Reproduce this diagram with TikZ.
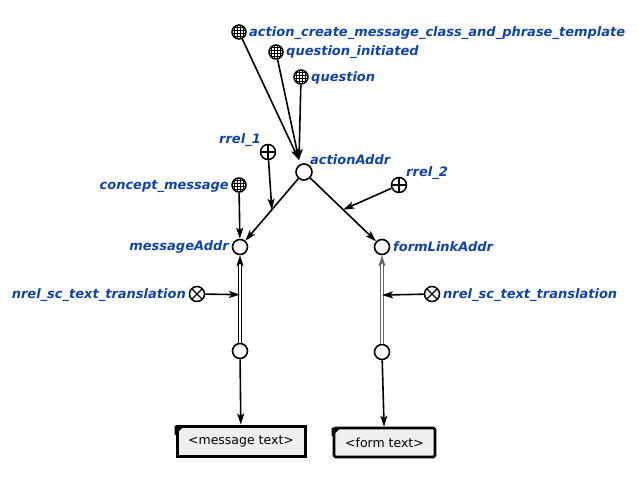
\documentclass[tikz,border=0pt]{standalone}
\usepackage{fontspec}
\setsansfont{DejaVu Sans}
\usetikzlibrary{arrows.meta}
\definecolor{labblue}{RGB}{18,68,168}
\definecolor{boxfill}{RGB}{239,239,239}
\begin{document}
\begin{tikzpicture}[x=1pt,y=-1pt,
  lab/.style={font=\sffamily\bfseries\itshape\fontsize{13}{15}\selectfont, text=labblue, inner sep=0pt},
  varnode/.style={circle, draw, line width=1.6pt, fill=white, minimum size=15pt, inner sep=0pt},
  classnode/.style={circle, draw, line width=1.5pt, fill=white, minimum size=14pt, inner sep=0pt,
    path picture={
      \foreach \d in {-4.5,-1.5,1.5,4.5}{
        \draw[line width=0.6pt] ([xshift=\d pt]path picture bounding box.north) -- ([xshift=\d pt]path picture bounding box.south);
        \draw[line width=0.6pt] ([yshift=\d pt]path picture bounding box.west) -- ([yshift=\d pt]path picture bounding box.east);
      }}},
  rrelnode/.style={circle, draw, line width=1.5pt, fill=white, minimum size=15pt, inner sep=0pt,
    path picture={
      \draw[line width=1.3pt] (path picture bounding box.north) -- (path picture bounding box.south);
      \draw[line width=1.3pt] (path picture bounding box.west) -- (path picture bounding box.east);}},
  nrelnode/.style={circle, draw, line width=1.5pt, fill=white, minimum size=15pt, inner sep=0pt,
    path picture={
      \draw[line width=1.3pt] (path picture bounding box.north west) -- (path picture bounding box.south east);
      \draw[line width=1.3pt] (path picture bounding box.north east) -- (path picture bounding box.south west);}},
  arc/.style={line width=1.6pt, -{Stealth[length=11pt,width=7pt,inset=2.5pt]}},
  darc/.style={line width=0.7pt, double distance=2.4pt, -{Stealth[length=11pt,width=7pt,inset=2.5pt]}},
  linkbox/.style={draw, fill=boxfill, font=\sffamily\fontsize{12.5}{14}\selectfont, inner sep=0pt}
]
\useasboundingbox (0,0) rectangle (638,477);

% nodes
\node[classnode] (acm) at (239,32) {};
\node[classnode] (qi) at (276,52) {};
\node[classnode] (q) at (301,77) {};
\node[varnode, minimum size=16pt] (act) at (304,172) {};
\node[rrelnode] (r1) at (268,152) {};
\node[classnode] (cm) at (239,185) {};
\node[rrelnode] (r2) at (399,185) {};
\node[varnode] (msg) at (240,247) {};
\node[varnode] (form) at (382,247) {};
\node[nrelnode] (n1) at (197,294) {};
\node[nrelnode] (n2) at (432,294) {};
\node[varnode] (l1) at (240,351) {};
\node[varnode] (l2) at (382,352) {};

\node[linkbox, line width=3pt, minimum width=128pt, minimum height=30pt] (mt) at (241,441) {\textless message text\textgreater};
\node[linkbox, line width=2.6pt, rounded corners=1.5pt, minimum width=101pt, minimum height=29pt] (ft) at (384.5,442.5) {\textless form text\textgreater};
\fill ([xshift=-1pt,yshift=-1pt]mt.north west) -- ++(10,0) -- ++(-10,10) -- cycle;
\fill ([xshift=-1pt,yshift=-1pt]ft.north west) -- ++(9,0) -- ++(-9,9) -- cycle;

% labels
\node[lab, anchor=west] (tacm) at (249,33) {action\_create\_message\_class\_and\_phrase\_template};
\node[lab, anchor=west] (tqi) at (286,52) {question\_initiated};
\node[lab, anchor=west] (tq) at (311,78) {question};
\node[lab, anchor=west] (tact) at (310,160) {actionAddr};
\node[lab, anchor=east] (tr1) at (261,140) {rrel\_1};
\node[lab, anchor=east] (tcm) at (229,186) {concept\_message};
\node[lab, anchor=west] (tr2) at (406,173) {rrel\_2};
\node[lab, anchor=east] (tmsg) at (229,247) {messageAddr};
\node[lab, anchor=west] (tform) at (393,247) {formLinkAddr};
\node[lab, anchor=east] (tn1) at (186,295) {nrel\_sc\_text\_translation};
\node[lab, anchor=west] (tn2) at (443,295) {nrel\_sc\_text\_translation};

% connectors
\coordinate (tgt) at (299,160);
\draw[arc] (acm) -- (tgt);
\draw[arc] (qi) -- (tgt);
\draw[arc] (q) -- (tgt);
\draw[arc] (act) -- (msg) coordinate[pos=0.5] (m1);
\draw[arc] (act) -- (form) coordinate[pos=0.5] (m2);
\draw[arc] (r1) -- (m1);
\draw[arc] (r2) -- (m2);
\draw[arc] (cm) -- (msg);
\draw[darc] (l1) -- (msg) coordinate[pos=0.55] (m3);
\draw[darc, color=black!60] (l2) -- (form) coordinate[pos=0.55] (m4);
\draw[arc] (n1) -- (m3);
\draw[arc] (n2) -- (m4);
\draw[arc] (l1) -- (mt);
\draw[arc] (l2) -- (ft);
\end{tikzpicture}
\end{document}
